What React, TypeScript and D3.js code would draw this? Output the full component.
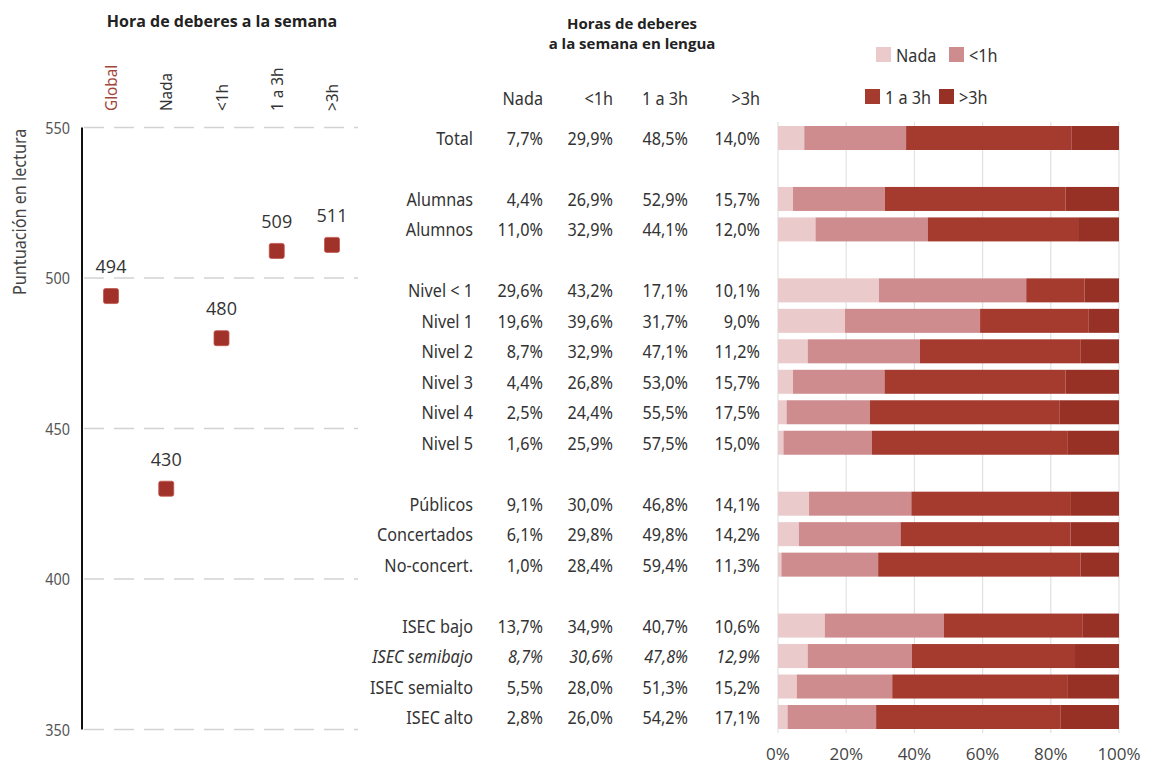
import { useEffect, useRef } from "react";
import * as d3 from "d3";

// Left panel: reading score by homework hours
const scoreCats = ["Global", "Nada", "<1h", "1 a 3h", ">3h"];
const scores = [494, 430, 480, 509, 511];
const scoreTicks = [550, 500, 450, 400, 350];

// Right panel: distribution of homework hours (%)
const rowLabels = [
  "Total",
  "Alumnas", "Alumnos",
  "Nivel < 1", "Nivel 1", "Nivel 2", "Nivel 3", "Nivel 4", "Nivel 5",
  "Públicos", "Concertados", "No-concert.",
  "ISEC bajo", "ISEC semibajo", "ISEC semialto", "ISEC alto",
];
const rowGroups = [1, 2, 6, 3, 4];
const nada = [7.7, 4.4, 11.0, 29.6, 19.6, 8.7, 4.4, 2.5, 1.6, 9.1, 6.1, 1.0, 13.7, 8.7, 5.5, 2.8];
const menos1h = [29.9, 26.9, 32.9, 43.2, 39.6, 32.9, 26.8, 24.4, 25.9, 30.0, 29.8, 28.4, 34.9, 30.6, 28.0, 26.0];
const de1a3h = [48.5, 52.9, 44.1, 17.1, 31.7, 47.1, 53.0, 55.5, 57.5, 46.8, 49.8, 59.4, 40.7, 47.8, 51.3, 54.2];
const mas3h = [14.0, 15.7, 12.0, 10.1, 9.0, 11.2, 15.7, 17.5, 15.0, 14.1, 14.2, 11.3, 10.6, 12.9, 15.2, 17.1];
const seriesNames = ["Nada", "<1h", "1 a 3h", ">3h"];
const seriesColors = ["#ebcacc", "#cf8c8e", "#a53a2e", "#973126"];
const pctTicks = [0, 20, 40, 60, 80, 100];
const italicRow = "ISEC semibajo";

const FONT = "'Noto Sans', 'Open Sans', sans-serif";
const BOLD = "'Open Sans', 'DejaVu Sans', sans-serif";
const SQ = 0.9; // horizontal squeeze to mimic the condensed face

export default function App() {
  const svgRef = useRef<SVGSVGElement>(null);

  useEffect(() => {
    document.body.style.margin = "0";
    const svg = d3.select(svgRef.current);
    svg.selectAll("*").remove();
    svg.append("rect").attr("width", 1150).attr("height", 765).attr("fill", "#fff");

    // ---------- left panel ----------
    const y = d3.scaleLinear().domain([350, 550]).range([729.5, 127.5]);
    const x = d3.scalePoint<string>().domain(scoreCats).range([111, 332]);

    svg.append("text")
      .attr("x", 222).attr("y", 27)
      .attr("text-anchor", "middle")
      .style("font-family", BOLD).style("font-weight", 700).style("font-size", "16px")
      .attr("fill", "#222")
      .text("Hora de deberes a la semana");

    svg.append("g").selectAll("line").data(scoreTicks).join("line")
      .attr("x1", 84).attr("x2", 358)
      .attr("y1", (d) => y(d)).attr("y2", (d) => y(d))
      .attr("stroke", "#d2d2d2").attr("stroke-width", 1.5)
      .attr("stroke-dasharray", "20,10");

    svg.append("line")
      .attr("x1", 82).attr("x2", 82)
      .attr("y1", y(550)).attr("y2", y(350))
      .attr("stroke", "#111").attr("stroke-width", 2);

    svg.append("g").selectAll("text").data(scoreTicks).join("text")
      .attr("transform", (d) => `translate(70,${y(d) + 6}) scale(${SQ},1)`)
      .attr("text-anchor", "end")
      .style("font-family", FONT).style("font-size", "16px")
      .attr("fill", "#555")
      .text((d) => d);

    svg.append("text")
      .attr("transform", `translate(26,${y(522)}) rotate(-90) scale(${SQ},1)`)
      .attr("text-anchor", "middle")
      .style("font-family", FONT).style("font-size", "18px")
      .attr("fill", "#444")
      .text("Puntuación en lectura");

    svg.append("g").selectAll("text").data(scoreCats).join("text")
      .attr("transform", (d) => `translate(${x(d)! + 6},111) rotate(-90) scale(${SQ},1)`)
      .style("font-family", FONT).style("font-size", "17px")
      .attr("fill", (d, i) => (i === 0 ? "#a2463d" : "#333"))
      .text((d) => d);

    const pts = svg.append("g").selectAll("g").data(scores).join("g")
      .attr("transform", (d, i) => `translate(${x(scoreCats[i])},${y(d)})`);
    pts.append("rect")
      .attr("x", -7.5).attr("y", -7.5).attr("width", 15).attr("height", 15)
      .attr("rx", 2)
      .attr("fill", "#a1322a").attr("stroke", "#c0554c").attr("stroke-width", 0.8);
    pts.append("text")
      .attr("y", -23).attr("text-anchor", "middle")
      .style("font-family", BOLD).style("font-size", "18px")
      .attr("fill", "#333")
      .text((d) => d);

    // ---------- right panel ----------
    const slots: number[] = [];
    let s = 0;
    rowGroups.forEach((n) => {
      for (let k = 0; k < n; k++) slots.push(s++);
      s++;
    });
    const ry = d3.scalePoint<number>().domain(d3.range(20)).range([138, 717]);
    const px = d3.scaleLinear().domain([0, 100]).range([778, 1119]);

    const title = svg.append("g")
      .attr("text-anchor", "middle")
      .style("font-family", BOLD).style("font-weight", 700).style("font-size", "15px")
      .attr("fill", "#222");
    title.append("text").attr("x", 632).attr("y", 29).text("Horas de deberes");
    title.append("text").attr("x", 632).attr("y", 49).text("a la semana en lengua");

    const colRight = [543, 613, 688, 760];
    const values = [nada, menos1h, de1a3h, mas3h];

    svg.append("g").selectAll("text").data(seriesNames).join("text")
      .attr("transform", (d, i) => `translate(${colRight[i]},105) scale(${SQ},1)`)
      .attr("text-anchor", "end")
      .style("font-family", FONT).style("font-size", "18px")
      .attr("fill", "#333")
      .text((d) => d);

    // vertical gridlines
    svg.append("g").selectAll("line").data(pctTicks).join("line")
      .attr("x1", (d) => px(d)).attr("x2", (d) => px(d))
      .attr("y1", 122).attr("y2", 733)
      .attr("stroke", "#e2e2e2").attr("stroke-width", 1.2);

    const rows = svg.append("g").selectAll("g").data(rowLabels).join("g")
      .attr("transform", (d, i) => `translate(0,${ry(slots[i])})`);

    rows.append("text")
      .attr("transform", `translate(473,7) scale(${SQ},1)`)
      .attr("text-anchor", "end")
      .style("font-family", FONT).style("font-size", "18px")
      .style("font-style", (d) => (d === italicRow ? "italic" : "normal"))
      .attr("fill", "#333")
      .text((d) => d);

    values.forEach((vals, j) => {
      rows.append("text")
        .attr("transform", `translate(${colRight[j]},7) scale(${SQ},1)`)
        .attr("text-anchor", "end")
        .style("font-family", FONT).style("font-size", "18px")
        .style("font-style", (d) => (d === italicRow ? "italic" : "normal"))
        .attr("fill", "#333")
        .text((d, i) => d3.format(".1f")(vals[i]).replace(".", ",") + "%");
    });

    rows.each(function (d, i) {
      const g = d3.select(this);
      const stack = values.map((v) => v[i]);
      const cum = d3.cumsum(stack);
      const total = cum[cum.length - 1];
      stack.forEach((v, j) => {
        const start = ((cum[j] - v) / total) * 100;
        g.append("rect")
          .attr("x", px(start)).attr("y", -12)
          .attr("width", px(start + (v / total) * 100) - px(start))
          .attr("height", 24)
          .attr("fill", seriesColors[j]);
      });
    });

    svg.append("g").selectAll("text").data(pctTicks).join("text")
      .attr("x", (d) => px(d)).attr("y", 760)
      .attr("text-anchor", "middle")
      .style("font-family", BOLD).style("font-size", "17px")
      .attr("fill", "#444")
      .text((d) => d + "%");

    // legend
    const legendItems = [
      { name: "Nada", x: 876, y: 47, c: seriesColors[0] },
      { name: "<1h", x: 949, y: 47, c: seriesColors[1] },
      { name: "1 a 3h", x: 865, y: 89, c: seriesColors[2] },
      { name: ">3h", x: 939, y: 89, c: seriesColors[3] },
    ];
    const lg = svg.append("g").selectAll("g").data(legendItems).join("g")
      .attr("transform", (d) => `translate(${d.x},${d.y})`);
    lg.append("rect").attr("width", 15).attr("height", 15).attr("fill", (d) => d.c);
    lg.append("text")
      .attr("transform", `translate(20,15) scale(${SQ},1)`)
      .style("font-family", FONT).style("font-size", "18px")
      .attr("fill", "#333")
      .text((d) => d.name);
  }, []);

  return (
    <svg
      ref={svgRef}
      width={1150}
      height={765}
      style={{ position: "absolute", left: 0, top: 0, display: "block" }}
    />
  );
}
